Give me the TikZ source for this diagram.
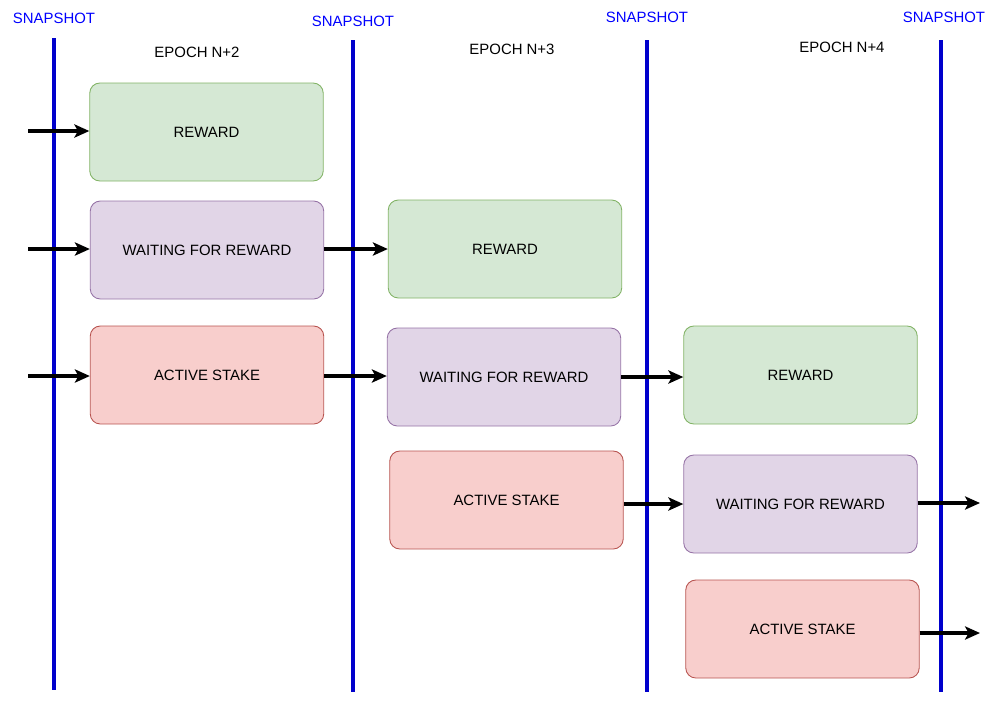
\documentclass[tikz,border=0pt]{standalone}
\usepackage{fontspec}
\setmainfont{Liberation Sans}
\usetikzlibrary{arrows.meta}

\definecolor{rewardfill}{HTML}{D5E8D4}
\definecolor{rewarddraw}{HTML}{82B366}
\definecolor{waitfill}{HTML}{E1D5E7}
\definecolor{waitdraw}{HTML}{9673A6}
\definecolor{stakefill}{HTML}{F8CECC}
\definecolor{stakedraw}{HTML}{B85450}
\definecolor{snapline}{HTML}{0000CC}
\definecolor{snaptext}{HTML}{0000FF}

\begin{document}
\begin{tikzpicture}[
    x=0.02cm, y=-0.02cm,
    every node/.style={font=\fontsize{8.5}{10}\selectfont},
    box/.style={rectangle, rounded corners=0.2cm, draw, minimum width=4.67cm, minimum height=1.96cm, line width=0.5pt},
    reward/.style={box, fill=rewardfill, draw=rewarddraw},
    waiting/.style={box, fill=waitfill, draw=waitdraw},
    stake/.style={box, fill=stakefill, draw=stakedraw},
    snap/.style={text=snaptext},
    flow/.style={draw, -{Stealth[length=8.5pt, width=7.5pt, inset=2pt]}, line width=1.9pt}
]
\useasboundingbox (0,0) rectangle (1000,708);

% snapshot lines
\draw[snapline, line width=1.8pt] (54,38) -- (54,690);
\draw[snapline, line width=1.8pt] (353,40) -- (353,692);
\draw[snapline, line width=1.8pt] (647,40) -- (647,692);
\draw[snapline, line width=1.8pt] (941,40) -- (941,692);

\node[snap] (s1) at (54,18) {SNAPSHOT};
\node[snap] (s2) at (353,21) {SNAPSHOT};
\node[snap] (s3) at (647,17) {SNAPSHOT};
\node[snap] (s4) at (944,17) {SNAPSHOT};

\node (e2) at (197,52) {EPOCH N+2};
\node (e3) at (512,49) {EPOCH N+3};
\node (e4) at (842,47) {EPOCH N+4};

% epoch N+2
\node[reward] (r2) at (206.5,132) {REWARD};
\node[waiting] (w2) at (207,250) {WAITING FOR REWARD};
\node[stake] (a2) at (207,375) {ACTIVE STAKE};

% epoch N+3
\node[reward] (r3) at (505,249) {REWARD};
\node[waiting] (w3) at (504,377) {WAITING FOR REWARD};
\node[stake] (a3) at (506.5,500) {ACTIVE STAKE};

% epoch N+4
\node[reward] (r4) at (800.5,375) {REWARD};
\node[waiting] (w4) at (800.5,504) {WAITING FOR REWARD};
\node[stake] (a4) at (802.5,629) {ACTIVE STAKE};

\coordinate (in1) at (28,131);
\coordinate (in2) at (28,249);
\coordinate (in3) at (28,376);
\coordinate (out1) at (980,503);
\coordinate (out2) at (980,633);

\draw[flow] (in1) -- (in1 -| r2.west);
\draw[flow] (in2) -- (in2 -| w2.west);
\draw[flow] (in3) -- (in3 -| a2.west);
\draw[flow] (w2.east |- in2) -- (in2 -| r3.west);
\draw[flow] (a2.east |- in3) -- (in3 -| w3.west);
\draw[flow] (w3.east) -- (w3.east -| r4.west);
\draw[flow] (a3.east |- w4.west) -- (w4.west);
\draw[flow] (w4.east |- out1) -- (out1);
\draw[flow] (a4.east |- out2) -- (out2);
\end{tikzpicture}
\end{document}
